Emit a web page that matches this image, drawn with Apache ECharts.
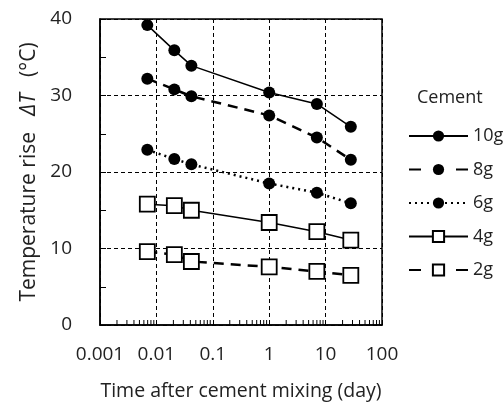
<!DOCTYPE html>
<html>
<head>
<meta charset="utf-8">
<script src="https://cdn.jsdelivr.net/npm/echarts@6/dist/echarts.min.js"></script>
<style>html,body{margin:0;padding:0;background:#fff;}#chart{width:503px;height:407px;}</style>
</head>
<body>
<div id="chart"></div>
<script>
// Time after cement mixing (day)
const times = [0.0069, 0.0208, 0.0417, 1, 7, 28];
const seriesNames = ['10g', '8g', '6g', '4g', '2g'];
const values10g = [39.2, 35.9, 33.9, 30.4, 28.9, 25.9];
const values8g  = [32.2, 30.8, 29.9, 27.4, 24.5, 21.6];
const values6g  = [22.9, 21.7, 21.0, 18.5, 17.3, 15.9];
const values4g  = [15.8, 15.6, 15.0, 13.4, 12.2, 11.1];
const values2g  = [9.6, 9.2, 8.3, 7.6, 7.0, 6.5];
const xTickLabels = ['0.001', '0.01', '0.1', '1', '10', '100'];
const yTicks = [0, 10, 20, 30, 40];
const xMinorTicks = [0.002,0.003,0.004,0.005,0.006,0.007,0.008,0.009,
  0.02,0.03,0.04,0.05,0.06,0.07,0.08,0.09,
  0.2,0.3,0.4,0.5,0.6,0.7,0.8,0.9,
  2,3,4,5,6,7,8,9,
  20,30,40,50,60,70,80,90];

const FONT = 'Open Sans';
const TXT = '#222';

function pairs(vals){ return times.map((t,i)=>[t, vals[i]]); }

const styles = {
  '10g': {type:'solid', width:1.5, symbol:'circle', size:12, fill:'#000', legendType:'solid'},
  '8g':  {type:[10,7], width:2.5, symbol:'circle', size:12, fill:'#000', legendType:[12,35]},
  '6g':  {type:[2,4], width:2.5, symbol:'circle', size:12, fill:'#000', legendType:[2,4]},
  '4g':  {type:'solid', width:1.5, symbol:'rect', size:15, fill:'#fff', legendType:'solid'},
  '2g':  {type:[10,7], width:2.5, symbol:'rect', size:15, fill:'#fff', legendType:[12,35]}
};
const allVals = {'10g':values10g,'8g':values8g,'6g':values6g,'4g':values4g,'2g':values2g};

const lineSeries = seriesNames.map(n => {
  const s = styles[n];
  return {
    name: n, type: 'line', data: pairs(allVals[n]),
    symbol: s.symbol, symbolSize: s.size, showSymbol: true,
    lineStyle: {color:'#000', width:s.width, type:s.type},
    itemStyle: {color:s.fill, borderColor:'#000', borderWidth: s.symbol==='rect'?1.8:0},
    emphasis: {disabled:true}, animation:false, z: 3
  };
});

const chart = echarts.init(document.getElementById('chart'), null, {renderer:'canvas'});
chart.setOption({
  animation: false,
  backgroundColor: '#fff',
  title: {
    text: 'Cement', left: 412, top: 84,
    textStyle: {fontFamily: FONT, fontSize: 18, fontWeight: 'normal', color: TXT}
  },
  legend: {
    data: seriesNames.map(n => ({name: n, lineStyle: {type: styles[n].legendType}})),
    orient: 'vertical', left: 403, top: 122,
    itemWidth: 59, itemHeight: 14, itemGap: 15.5,
    textStyle: {fontFamily: FONT, fontSize: 18, lineHeight: 18, color: TXT},
    selectedMode: false
  },
  grid: {left: 100, top: 19, width: 282, height: 306},
  xAxis: {
    type: 'log', logBase: 10, min: 0.001, max: 100,
    axisLine: {show: true, lineStyle: {color: '#000', width: 1.5}},
    axisTick: {show: true, inside: true, length: 5, lineStyle: {color:'#000'}},
    axisLabel: {fontFamily: FONT, fontSize: 19, color: TXT, margin: 20,
      formatter: v => { const i = Math.round(Math.log10(v)) + 3; return xTickLabels[i] ?? ''; }},
    splitLine: {show: true, lineStyle: {color: '#000', type: [4,3], width: 1}},
    name: 'Time after cement mixing (day)', nameLocation: 'middle', nameGap: 56,
    nameTextStyle: {fontFamily: FONT, fontSize: 19.5, color: TXT}
  },
  yAxis: {
    type: 'value', min: 0, max: 40, interval: 10,
    axisLine: {show: true, lineStyle: {color: '#000', width: 1.5}},
    axisTick: {show: true, inside: true, length: 6, lineStyle: {color:'#000'}},
    minorTick: {show: true, splitNumber: 2, length: 6, lineStyle: {color:'#000'}},
    axisLabel: {fontFamily: FONT, fontSize: 19, color: TXT, margin: 28,
      formatter: v => yTicks.includes(v) ? String(v) : ''},
    splitLine: {show: true, lineStyle: {color: '#000', type: [4,3], width: 1}},
    name: '{n|Temperature rise   }{i|ΔT}{n|   (°C)}', nameLocation: 'middle', nameGap: 58,
    nameTextStyle: {fontFamily: FONT, fontSize: 21, color: TXT,
      rich: {n:{fontFamily: FONT, fontSize: 21, color: TXT}, i:{fontFamily: FONT, fontSize: 21, color: TXT, fontStyle:'italic'}}}
  },
  series: [
    ...lineSeries,
    {
      name: 'minorTicks', type: 'custom', silent: true, z: 2,
      data: xMinorTicks.map(v => [v, 0]),
      renderItem: (params, api) => {
        const p = api.coord([api.value(0), 0]);
        return {type:'line', shape:{x1:p[0], y1:p[1], x2:p[0], y2:p[1]-5},
          style:{stroke:'#000', lineWidth:1}};
      }
    },
    {
      name: 'frame', type: 'custom', silent: true, z: 4,
      data: [[0.001, 0]],
      renderItem: (params, api) => {
        const a = api.coord([0.001, 40]);
        const b = api.coord([100, 0]);
        return {type:'rect', shape:{x:a[0], y:a[1], width:b[0]-a[0], height:b[1]-a[1]},
          style:{stroke:'#000', fill:'none', lineWidth:1.5}};
      }
    }
  ]
});
</script>
</body>
</html>
